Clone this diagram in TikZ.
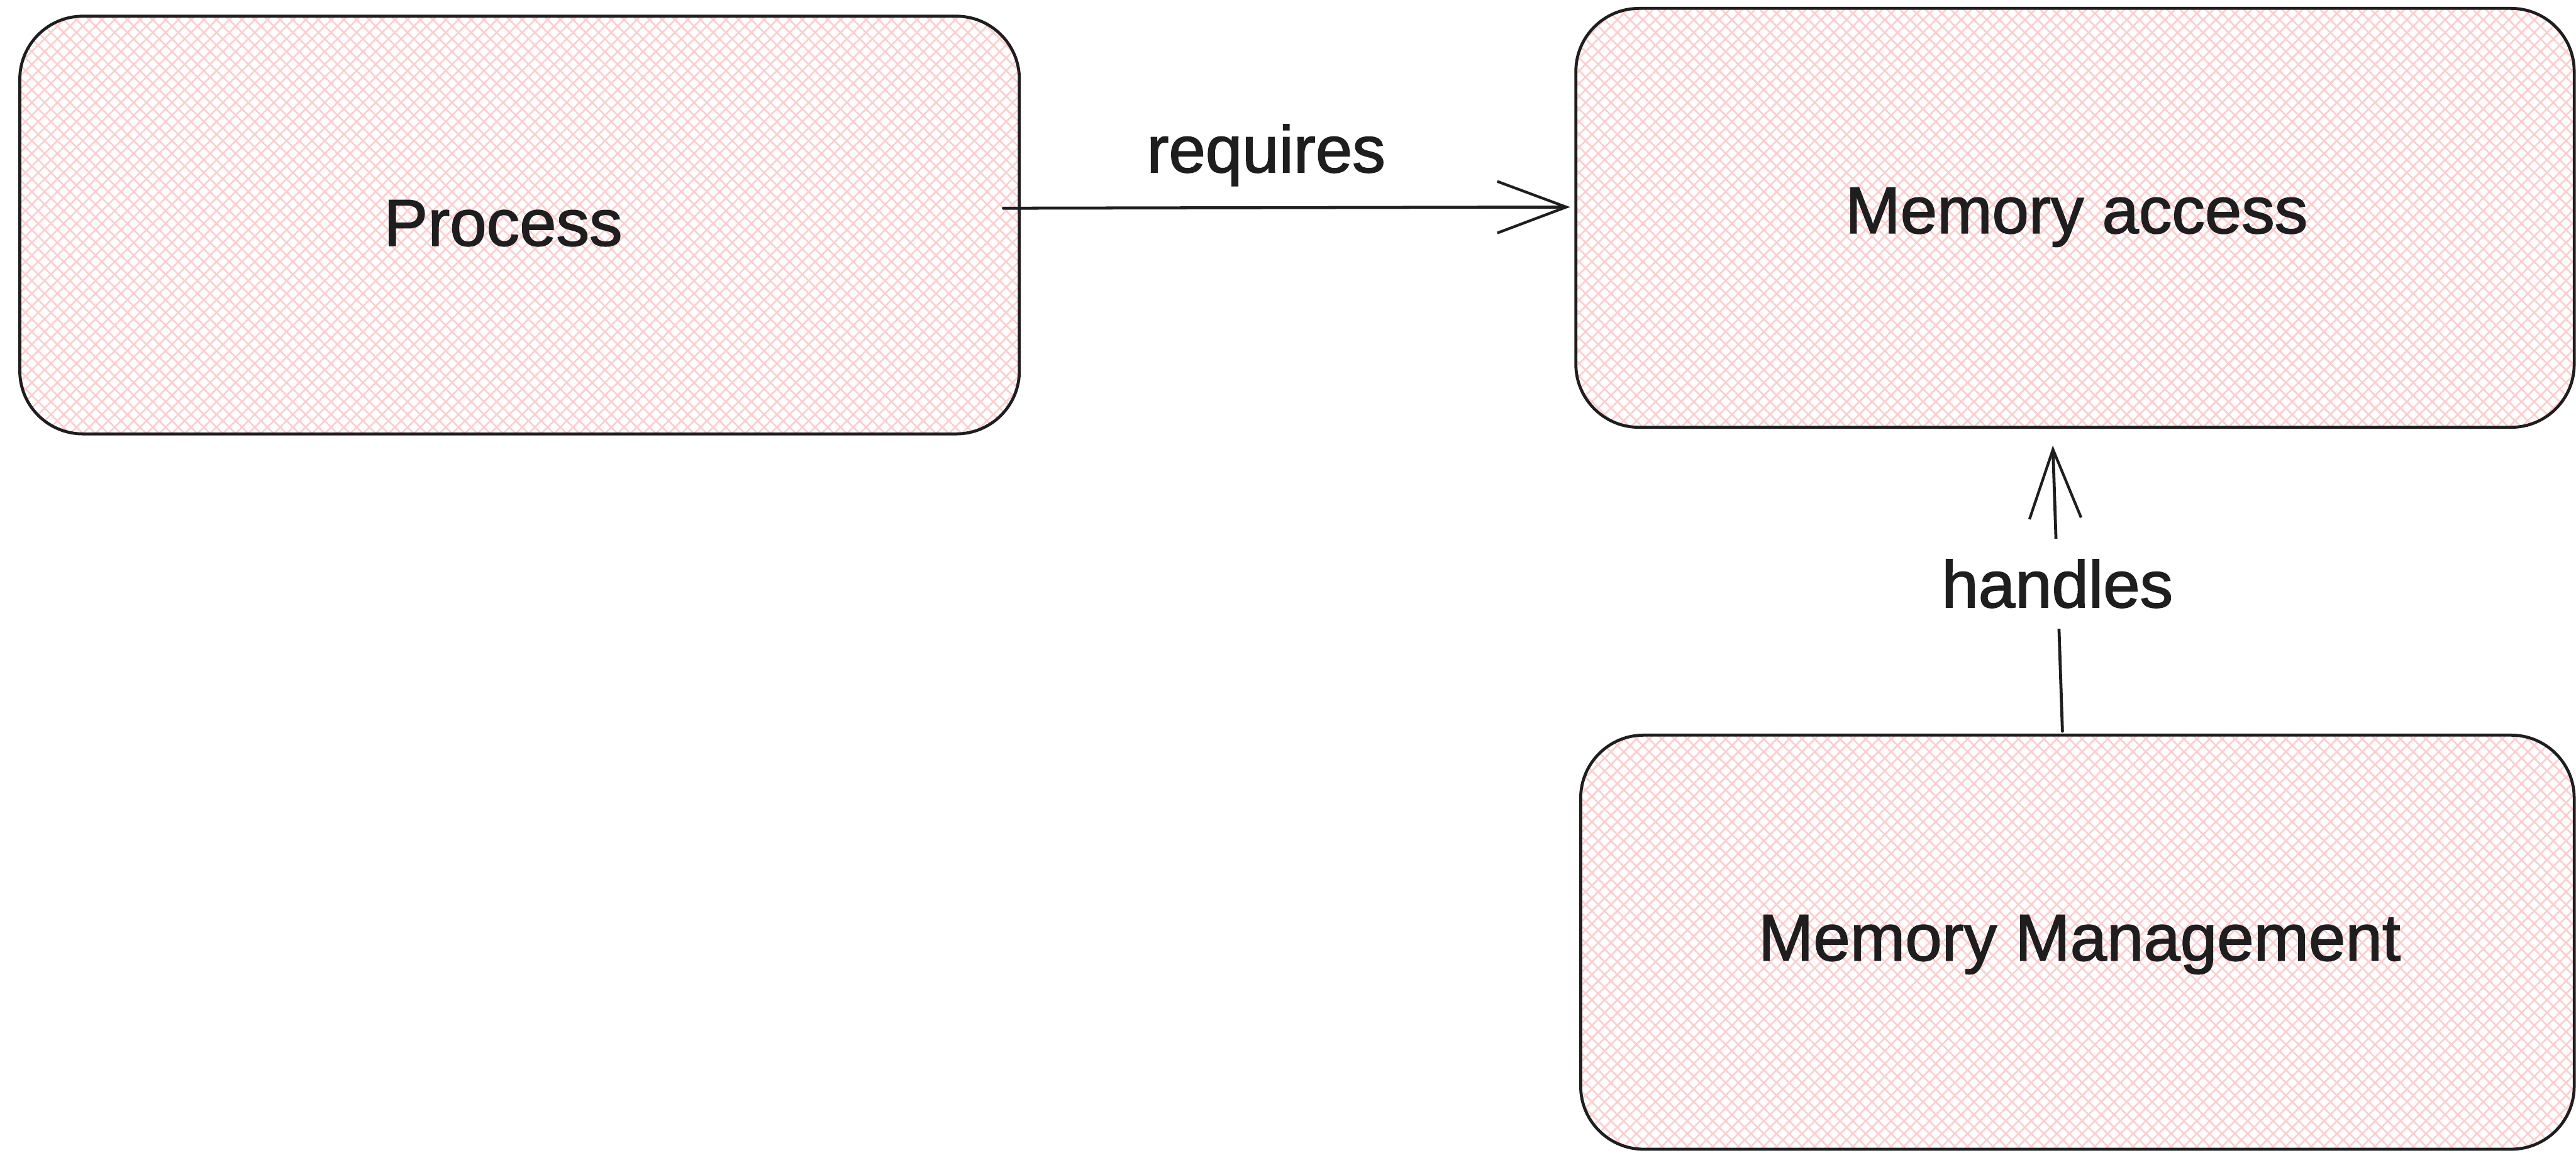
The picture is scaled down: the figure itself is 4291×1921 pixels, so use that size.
\documentclass[tikz,border=0pt]{standalone}
\usepackage{fontspec}
\setmainfont{Liberation Sans}
\newfontfamily\handfont{Liberation Sans}[FakeBold=1.6]
\usetikzlibrary{arrows.meta,patterns.meta}

\definecolor{ink}{HTML}{1E1E1E}
\definecolor{hatch}{HTML}{FFCDCD}

\tikzset{
  box/.style={
    draw=ink, line width=5pt, rounded corners=105pt,
    rectangle, inner sep=0pt,
    preaction={pattern={Lines[angle=45,distance=15pt,line width=2.8pt]}, pattern color=hatch},
    pattern={Lines[angle=-45,distance=15pt,line width=2.8pt]}, pattern color=hatch
  },
  lbl/.style={text=ink, font=\handfont\fontsize{110}{132}\selectfont, inner sep=0pt},
  conn/.style={draw=ink, line width=5pt, line cap=round,
    -{Straight Barb[length=115pt,width=86pt,line width=4.5pt]}}
}

\begin{document}
\begin{tikzpicture}[x=1pt,y=-1pt]
  \useasboundingbox (0,0) rectangle (4291,1921);

  % the three blocks
  \node[box, minimum width=1665, minimum height=696] (p)  at (865.5,375) {};
  \node[box, minimum width=1663, minimum height=698] (ma) at (3456.5,363) {};
  \node[box, minimum width=1655, minimum height=690] (mm) at (3460.5,1570) {};

  % block titles
  \node[lbl] (pt)  at (838,372) {Process};
  \node[lbl] (mat) at (3459,362) {Memory access};
  \node[lbl] (mmt) at (3464,1574) {Memory Management};

  % Process -> Memory access
  \draw[conn] ([shift={(-28,-28)}]p.east) -- ([shift={(-7,-18)}]ma.west);
  \node[lbl, anchor=base] (rq) at (2109,287) {requires};

  % Memory Management -> Memory access, label sitting on the line
  \draw[conn] ([shift={(-25,-4)}]mm.north) -- ([shift={(-37,28)}]ma.south);
  \node[lbl, anchor=base, fill=white, inner xsep=8pt, inner ysep=34pt] (hd) at (3427,1012) {handles};
\end{tikzpicture}
\end{document}
